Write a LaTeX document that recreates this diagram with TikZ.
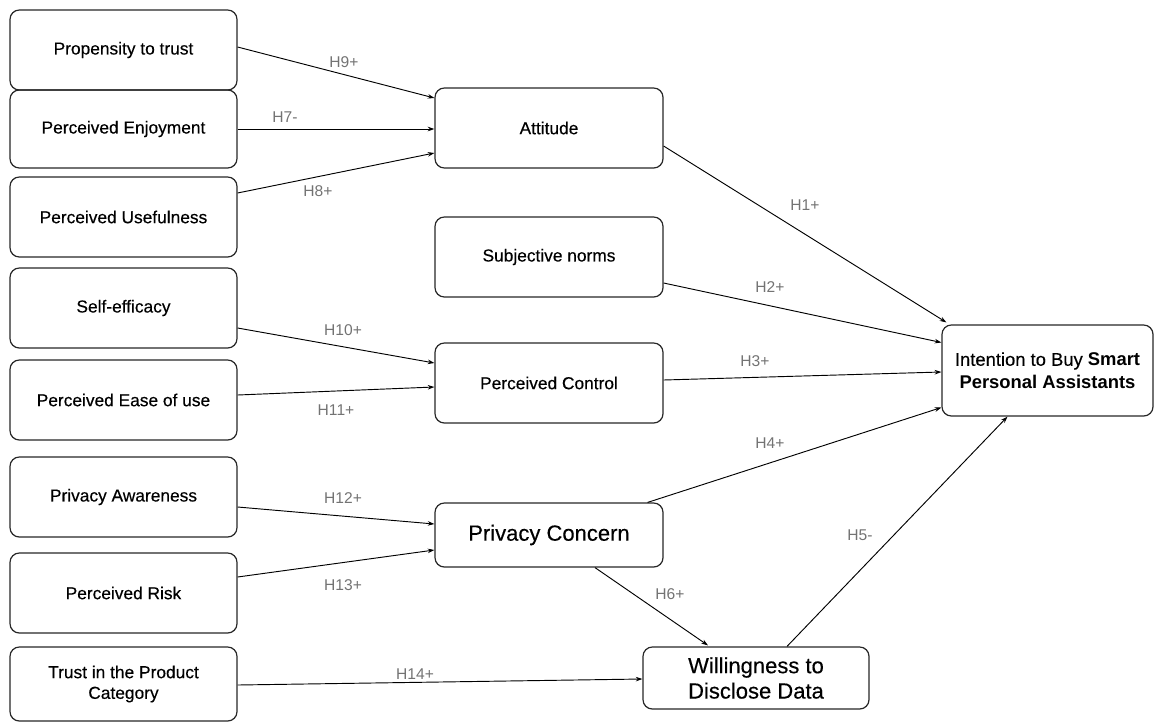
\documentclass[tikz,border=0pt]{standalone}
\usepackage{fontspec}
\setmainfont{Liberation Sans}
\newfontfamily\medfont[FakeBold=0.35]{Liberation Sans}
\usetikzlibrary{arrows.meta,calc}
\begin{document}
\begin{tikzpicture}[x=0.75pt,y=-0.75pt,
  box/.style={draw=black!85, rounded corners=7pt, line width=0.9pt, align=center, inner sep=0pt, font=\medfont\fontsize{13}{15.5}\selectfont},
  lbox/.style={box, minimum width=170.25pt, minimum height=60pt},
  mbox/.style={box, minimum width=171pt, minimum height=60pt},
  conn/.style={-{Stealth[length=5pt,width=3.4pt]}, line width=0.7pt, black},
  lab/.style={text=black!55, font=\fontsize{11.7}{13}\selectfont, inner sep=0pt}]
\useasboundingbox (0,0) rectangle (1156,722);
% left column
\node[lbox] (prop) at (123.5,50) {Propensity to trust};
\node[lbox, minimum height=58.5pt] (enj) at (123.5,129) {Perceived Enjoyment};
\node[lbox] (use) at (123.5,217) {Perceived Usefulness};
\node[lbox] (self) at (123.5,308) {Self-efficacy};
\node[lbox] (ease) at (123.5,400) {Perceived Ease of use};
\node[lbox] (aware) at (123.5,497) {Privacy Awareness};
\node[lbox] (risk) at (123.5,593) {Perceived Risk};
\node[lbox, minimum height=55.5pt] (trust) at (123.5,684) {Trust in the Product\\Category};
% middle column
\node[mbox] (att) at (549,128) {Attitude};
\node[mbox] (sn) at (549,257) {Subjective norms};
\node[mbox] (pc) at (549,383) {Perceived Control};
\node[mbox, minimum height=48pt, font=\medfont\fontsize{16.5}{19}\selectfont] (priv) at (549,535) {Privacy Concern};
\node[box, minimum width=169.5pt, minimum height=46.5pt, font=\medfont\fontsize{16.5}{19}\selectfont] (will) at (756,678) {Willingness to\\Disclose Data};
% right
\node[box, minimum width=158.25pt, minimum height=68.25pt, font=\medfont\fontsize{13.8}{17}\selectfont] (int) at (1047.5,370.5) {Intention to Buy {\rmfamily\bfseries Smart}\\{\rmfamily\bfseries Personal Assistants}};
% connectors
\draw[conn] ($(prop.east)+(0,-3)$) -- ($(att.west)+(0,-30)$);
\draw[conn] (enj.east) -- ($(att.west)+(0,1)$);
\draw[conn] ($(use.east)+(0,-24)$) -- ($(att.west)+(0,25)$);
\draw[conn] ($(self.east)+(0,20)$) -- ($(pc.west)+(0,-20)$);
\draw[conn] ($(ease.east)+(0,-5)$) -- ($(pc.west)+(0,4)$);
\draw[conn] ($(aware.east)+(0,10)$) -- ($(priv.west)+(0,-11)$);
\draw[conn] ($(risk.east)+(0,-16)$) -- ($(priv.west)+(0,15)$);
\draw[conn] ($(trust.east)+(0,1)$) -- ($(will.west)+(0,1)$);
\draw[conn] ($(att.east)+(0,18)$) -- ($(int.north west)+(5,-2)$);
\draw[conn] ($(sn.east)+(0,26)$) -- ($(int.west)+(0,-28)$);
\draw[conn] ($(pc.east)+(0,-3)$) -- ($(int.west)+(0,1.5)$);
\draw[conn] ($(priv.north east)+(-16,0)$) -- ($(int.west)+(0,37)$);
\draw[conn] ($(priv.south)+(46,0)$) -- ($(will.north)+(-48,-1)$);
\draw[conn] ($(will.north)+(31,0)$) -- ($(int.south)+(-40,0)$);
% labels
\node[lab] (l9) at (344,62) {H9+};
\node[lab] (l7) at (285,117) {H7-};
\node[lab] (l8) at (318,191) {H8+};
\node[lab] (l10) at (343,330) {H10+};
\node[lab] (l11) at (336,410) {H11+};
\node[lab] (l12) at (343,498) {H12+};
\node[lab] (l13) at (343,585) {H13+};
\node[lab] (l14) at (415,674) {H14+};
\node[lab] (l1) at (805,205) {H1+};
\node[lab] (l2) at (770,287) {H2+};
\node[lab] (l3) at (755,361) {H3+};
\node[lab] (l4) at (770,443) {H4+};
\node[lab] (l5) at (860,535) {H5-};
\node[lab] (l6) at (670,594) {H6+};
\end{tikzpicture}
\end{document}
